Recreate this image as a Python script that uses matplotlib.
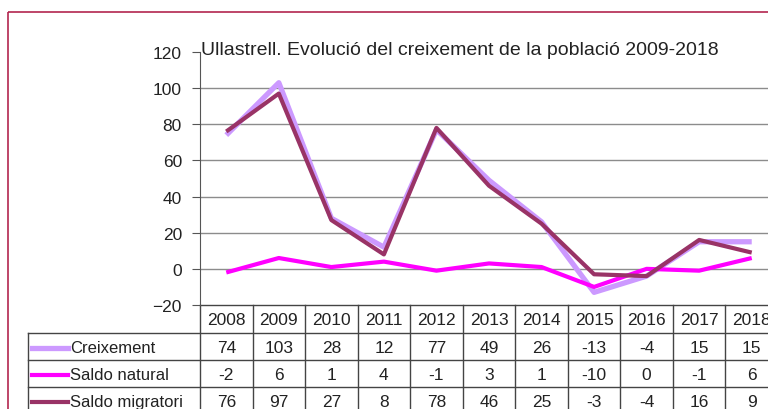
import matplotlib.pyplot as plt
from matplotlib.patches import Rectangle
from matplotlib.transforms import blended_transform_factory

plt.rcParams['font.family'] = ['Liberation Sans', 'DejaVu Sans']

years = ['2008', '2009', '2010', '2011', '2012', '2013', '2014', '2015', '2016', '2017', '2018']
creixement = [74, 103, 28, 12, 77, 49, 26, -13, -4, 15, 15]
saldo_natural = [-2, 6, 1, 4, -1, 3, 1, -10, 0, -1, 6]
saldo_migratori = [76, 97, 27, 8, 78, 46, 25, -3, -4, 16, 9]

series = [
    ('Creixement', creixement, '#cc99ff', 3.8),
    ('Saldo natural', saldo_natural, '#ff00ff', 3.0),
    ('Saldo migratori', saldo_migratori, '#993366', 3.0),
]

W, H = 768, 410
fig = plt.figure(figsize=(W / 100, H / 100), dpi=100)

# overlay in pixel coords for the frame and the data table
ov = fig.add_axes([0, 0, 1, 1])
ov.set_xlim(0, W)
ov.set_ylim(H, 0)
ov.axis('off')

ov.add_patch(Rectangle((7.5, 12.5), 800, 500, fill=False, edgecolor='#b3264f',
                       linewidth=1.2, clip_on=False))

left, right, top, bottom = 200, 778, 53, 306
ax = fig.add_axes([left / W, (H - bottom) / H, (right - left) / W, (bottom - top) / H])
ax.set_facecolor('none')
n = len(years)
ax.set_xlim(-0.5, n - 0.5)
ax.set_ylim(-20, 120)
ax.set_yticks(range(-20, 121, 20))
for y in range(0, 101, 20):
    ax.axhline(y, color='#8c8c8c', linewidth=1.0, zorder=1)
for s in ['top', 'right', 'bottom']:
    ax.spines[s].set_visible(False)
ax.spines['left'].set_color('#555555')
ax.set_xticks([])
ax.tick_params(axis='y', direction='out', length=6, color='#555555',
               labelsize=12.5, labelcolor='#222222', pad=7)

xs = list(range(n))
for i, (name, vals, col, lw) in enumerate(series):
    ax.plot(xs, vals, color=col, linewidth=lw, zorder=3 + i, solid_capstyle='butt')

ov.text(201, 55, 'Ullastrell. Evolució del creixement de la població 2009-2018',
        fontsize=14, color='#222222', ha='left', va='baseline')

# data table
tr = blended_transform_factory(ax.transData, ov.transData)
lc = '#444444'
row_y = [306, 334, 361, 388, 415]
colw = (right - left) / n
ov.plot([left, right], [row_y[0], row_y[0]], color=lc, lw=1.0)
for y in row_y[1:]:
    ov.plot([28, right], [y, y], color=lc, lw=1.0)
ov.plot([28, 28], [row_y[1], row_y[-1]], color=lc, lw=1.0)
for k in range(n + 1):
    x = left + k * colw
    ov.plot([x, x], [row_y[0], row_y[-1]], color=lc, lw=1.0)

for i, yr in enumerate(years):
    ov.text(i, (row_y[0] + row_y[1]) / 2 + 1, yr, transform=tr, ha='center', va='center',
            fontsize=12.5, color='#222222')
for r, (name, vals, col, lw) in enumerate(series):
    yc = (row_y[r + 1] + row_y[r + 2]) / 2 + 1
    ov.plot([32, 68], [yc, yc], color=col, lw=lw)
    ov.text(70, yc, name, ha='left', va='center', fontsize=12, color='#222222')
    for i, v in enumerate(vals):
        ov.text(i, yc, str(v), transform=tr, ha='center', va='center',
                fontsize=12.5, color='#222222')

fig.savefig('out.png', dpi=100)
